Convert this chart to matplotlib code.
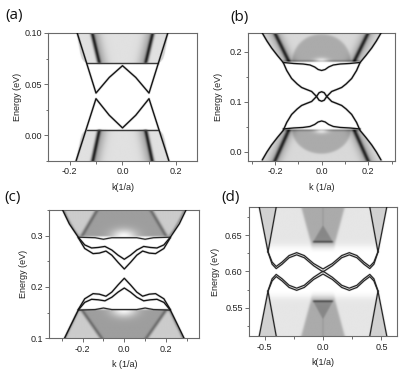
import numpy as np
import matplotlib
matplotlib.use('Agg')
import matplotlib.pyplot as plt
from matplotlib.ticker import MultipleLocator, FormatStrFormatter

plt.rcParams['font.family'] = ['Liberation Sans', 'DejaVu Sans']
plt.rcParams['axes.unicode_minus'] = False

# ---------------- panel (a) ----------------
a_xlim = (-0.28, 0.28)
a_ylim = (-0.025, 0.10)
a_up_k = [-0.171, -0.100, -0.050, 0.000, 0.050, 0.100, 0.171]
a_up_E = [0.100, 0.0412, 0.0565, 0.068, 0.0565, 0.0412, 0.100]
a_lo_k = [-0.175, -0.100, -0.050, 0.000, 0.050, 0.100, 0.175]
a_lo_E = [-0.025, 0.0357, 0.0195, 0.0071, 0.0195, 0.0357, -0.025]
a_cf_k = [-0.135, 0.135]            # flat bottom of upper continuum
a_cf_E = [0.0705, 0.0705]
a_vf_k = [-0.135, 0.135]            # flat top of lower continuum
a_vf_E = [0.0055, 0.0055]
a_cb_E = [0.0705, 0.072, 0.075, 0.080, 0.090, 0.100]
a_cb_k = [0.130, 0.143, 0.152, 0.158, 0.165, 0.171]
a_vb_E = [0.0055, 0.004, 0.001, -0.004, -0.014, -0.025]
a_vb_k = [0.130, 0.143, 0.152, 0.158, 0.166, 0.175]
a_cs_E = [0.0705, 0.100]
a_cs_k = [0.088, 0.115]
a_vs_E = [0.0055, -0.025]
a_vs_k = [0.088, 0.113]

# ---------------- panel (b) ----------------
b_xlim = (-0.315, 0.315)
b_ylim = (-0.0175, 0.238)
b_k = [-0.255, -0.235, -0.215, -0.190, -0.165, -0.150, -0.129, -0.105, -0.086, -0.065,
       -0.043, -0.022, -0.011, 0.000, 0.011, 0.022, 0.043, 0.065, 0.086, 0.105,
       0.129, 0.150, 0.165, 0.190, 0.215, 0.235, 0.255]
b_up_E = [0.238, 0.222, 0.208, 0.193, 0.179, 0.163, 0.147, 0.136, 0.129, 0.125,
          0.121, 0.111, 0.1035, 0.1015, 0.1035, 0.111, 0.121, 0.125, 0.129, 0.136,
          0.147, 0.163, 0.179, 0.193, 0.208, 0.222, 0.238]
b_lo_E = [-0.016, 0.000, 0.014, 0.029, 0.043, 0.059, 0.075, 0.086, 0.093, 0.097,
          0.101, 0.111, 0.1185, 0.1205, 0.1185, 0.111, 0.101, 0.097, 0.093, 0.086,
          0.075, 0.059, 0.043, 0.029, 0.014, 0.000, -0.016]
b_d_k = [-0.165, -0.120, -0.080, -0.050, -0.030, -0.015, 0.000, 0.015, 0.030, 0.050, 0.080, 0.120, 0.165]
b_cd_E = [0.179, 0.177, 0.176, 0.174, 0.170, 0.165, 0.163, 0.165, 0.170, 0.174, 0.176, 0.177, 0.179]
b_vd_E = [0.046, 0.048, 0.049, 0.051, 0.055, 0.060, 0.062, 0.060, 0.055, 0.051, 0.049, 0.048, 0.046]
b_cb_E = [0.181, 0.193, 0.208, 0.222, 0.238]
b_cb_k = [0.163, 0.190, 0.215, 0.235, 0.255]
b_vb_E = [0.045, 0.029, 0.014, 0.000, -0.0175]
b_vb_k = [0.163, 0.190, 0.215, 0.235, 0.257]
b_cs_E = [0.181, 0.238]
b_cs_k = [0.140, 0.200]
b_vs_E = [0.045, -0.0175]
b_vs_k = [0.140, 0.200]

# ---------------- panel (c) ----------------
c_xlim = (-0.36, 0.36)
c_ylim = (0.10, 0.35)
c_o_k = [-0.296, -0.264, -0.221, -0.190, -0.157, -0.125, -0.093, -0.060, -0.030, 0.000,
         0.030, 0.060, 0.093, 0.125, 0.157, 0.190, 0.221, 0.264, 0.296]
c_u1_E = [0.350, 0.323, 0.297, 0.282, 0.276, 0.277, 0.279, 0.272, 0.262, 0.254,
          0.262, 0.272, 0.279, 0.277, 0.276, 0.282, 0.297, 0.323, 0.350]
c_l2_k = [-0.287, -0.256, -0.221, -0.190, -0.157, -0.125, -0.093, -0.060, -0.030, 0.000,
          0.030, 0.060, 0.093, 0.125, 0.157, 0.190, 0.221, 0.256, 0.287]
c_l2_E = [0.100, 0.126, 0.155, 0.170, 0.176, 0.175, 0.173, 0.180, 0.190, 0.198,
          0.190, 0.180, 0.173, 0.175, 0.176, 0.170, 0.155, 0.126, 0.100]
c_i_k = [-0.221, -0.190, -0.150, -0.120, -0.088, -0.060, -0.030, 0.000,
         0.030, 0.060, 0.088, 0.120, 0.150, 0.190, 0.221]
c_u2_E = [0.296, 0.275, 0.265, 0.266, 0.270, 0.262, 0.248, 0.235,
          0.248, 0.262, 0.270, 0.266, 0.265, 0.275, 0.296]
c_l1_E = [0.156, 0.177, 0.187, 0.186, 0.182, 0.190, 0.204, 0.217,
          0.204, 0.190, 0.182, 0.186, 0.187, 0.177, 0.156]
c_f_k = [-0.221, -0.140, -0.100, -0.060, 0.060, 0.100, 0.140, 0.221]
c_cf_E = [0.297, 0.296, 0.293, 0.296, 0.296, 0.293, 0.296, 0.297]
c_vf_E = [0.155, 0.156, 0.159, 0.156, 0.156, 0.159, 0.156, 0.155]
c_cb_E = [0.297, 0.310, 0.323, 0.336, 0.350]
c_cb_k = [0.221, 0.245, 0.264, 0.281, 0.296]
c_vb_E = [0.155, 0.140, 0.126, 0.113, 0.100]
c_vb_k = [0.221, 0.240, 0.256, 0.272, 0.287]
c_cs_E = [0.297, 0.350]
c_cs_k = [0.205, 0.128]
c_vs_E = [0.155, 0.100]
c_vs_k = [0.205, 0.110]

# ---------------- panel (d) ----------------
d_xlim = (-0.63, 0.63)
d_ylim = (0.511, 0.689)
d_o_k = [-0.545, -0.470, -0.435, -0.400, -0.350, -0.290, -0.225, -0.160, -0.080, 0.000,
         0.080, 0.160, 0.225, 0.290, 0.350, 0.400, 0.435, 0.470, 0.545]
d_a1_E = [0.689, 0.627, 0.613, 0.607, 0.613, 0.622, 0.626, 0.622, 0.611, 0.6035,
          0.611, 0.622, 0.626, 0.622, 0.613, 0.607, 0.613, 0.627, 0.689]
d_b2_E = [0.511, 0.573, 0.587, 0.593, 0.587, 0.578, 0.574, 0.578, 0.589, 0.5965,
          0.589, 0.578, 0.574, 0.578, 0.587, 0.593, 0.587, 0.573, 0.511]
d_i_k = [-0.470, -0.435, -0.400, -0.350, -0.290, -0.225, -0.160, -0.080, 0.000,
         0.080, 0.160, 0.225, 0.290, 0.350, 0.400, 0.435, 0.470]
d_a2_E = [0.627, 0.610, 0.604, 0.610, 0.619, 0.623, 0.619, 0.608, 0.5995,
          0.608, 0.619, 0.623, 0.619, 0.610, 0.604, 0.610, 0.627]
d_b1_E = [0.573, 0.590, 0.596, 0.590, 0.581, 0.577, 0.581, 0.592, 0.6005,
          0.592, 0.581, 0.577, 0.581, 0.590, 0.596, 0.590, 0.573]
d_st_k = [0.400, 0.470]
d_stc_E = [0.689, 0.627]
d_stv_E = [0.511, 0.573]
d_cl_E = [0.627, 0.689]; d_cl_k = [0.470, 0.545]
d_cr_E = [0.627, 0.689]; d_cr_k = [0.470, 0.400]
d_ct_E = [0.630, 0.641, 0.689]; d_ct_k = [0.095, 0.105, 0.185]
d_ctri_E = [0.641, 0.664]; d_ctri_k = [0.085, 0.0]
d_vl_E = [0.573, 0.511]; d_vl_k = [0.470, 0.545]
d_vr_E = [0.573, 0.511]; d_vr_k = [0.470, 0.400]
d_vt_E = [0.570, 0.559, 0.511]; d_vt_k = [0.095, 0.105, 0.185]
d_vtri_E = [0.559, 0.534]; d_vtri_k = [0.085, 0.0]


def soft(x, w):
    return 0.5 * (1.0 + np.tanh(x / w))


def edge(E, Es, ks):
    Es = np.asarray(Es, float)
    ks = np.asarray(ks, float)
    o = np.argsort(Es)
    return np.interp(E, Es[o], ks[o])


def grid(xlim, ylim, ax, n=420):
    k = np.linspace(xlim[0], xlim[1], n)
    e = np.linspace(ylim[0], ylim[1], n)
    K, E = np.meshgrid(k, e)
    bb = ax.get_position()
    dk = (xlim[1] - xlim[0]) / (bb.width * 416)
    de = (ylim[1] - ylim[0]) / (bb.height * 379)
    return K, E, dk, de


def lobe(K, E, dk, de, eE, ek, up):
    side = (E - eE[0]) if up else (eE[0] - E)
    w = edge(E, eE, ek)
    return soft(side, 0.7 * de) * soft(w - np.abs(K), 0.7 * dk), w


def show(ax, D, xlim, ylim):
    img = 1.0 - np.clip(D, 0, 0.95)
    ax.imshow(img, cmap='gray', vmin=0, vmax=1, origin='lower',
              extent=(xlim[0], xlim[1], ylim[0], ylim[1]),
              aspect='auto', interpolation='bilinear', zorder=1)


def band(ax, k, E, lw=1.0, c='#151515'):
    ax.plot(k, E, color=c, lw=lw * 2.0, alpha=0.14, solid_joinstyle='round', zorder=3)
    ax.plot(k, E, color=c, lw=lw, solid_joinstyle='round', solid_capstyle='round', zorder=4)


def style(ax, xlim, ylim, xmaj, xmin, ymaj, ymin, yfmt, xlab):
    ax.set_xlim(xlim)
    ax.set_ylim(ylim)
    ax.xaxis.set_major_locator(MultipleLocator(xmaj))
    ax.xaxis.set_minor_locator(MultipleLocator(xmin))
    ax.yaxis.set_major_locator(MultipleLocator(ymaj))
    ax.yaxis.set_minor_locator(MultipleLocator(ymin))
    ax.xaxis.set_major_formatter(FormatStrFormatter('%.1f'))
    ax.yaxis.set_major_formatter(FormatStrFormatter(yfmt))
    for s in ax.spines.values():
        s.set_color('#6a6a6a')
        s.set_linewidth(0.8)
    ax.tick_params(which='both', direction='out', colors='#555555', labelcolor='#222222',
                   top=False, right=False, labelsize=6.5, pad=1.8, width=0.6)
    ax.tick_params(which='major', length=3)
    ax.tick_params(which='minor', length=1.8)
    ax.set_xlabel(xlab, fontsize=6.5, color='#222222')
    ax.set_ylabel('Energy (eV)', fontsize=6.5, color='#222222')


fig = plt.figure(figsize=(4.16, 3.79), dpi=100)
axa = fig.add_axes([48.3 / 416, 1 - 160.7 / 379, 148.4 / 416, 127.7 / 379])
axb = fig.add_axes([248.3 / 416, 1 - 160.7 / 379, 146.7 / 416, 127.7 / 379])
axc = fig.add_axes([49.3 / 416, 1 - 338.3 / 379, 150.0 / 416, 128.3 / 379])
axd = fig.add_axes([249.3 / 416, 1 - 336.0 / 379, 147.4 / 416, 129.0 / 379])

# ---- (a) ----
K, E, dk, de = grid(a_xlim, a_ylim, axa)
aK = np.abs(K)
D = np.zeros_like(K)
for eE, ek, sE, sk, up in [(a_cb_E, a_cb_k, a_cs_E, a_cs_k, True),
                           (a_vb_E, a_vb_k, a_vs_E, a_vs_k, False)]:
    m, w = lobe(K, E, dk, de, eE, ek, up)
    s = edge(E, sE, sk)
    d = (0.12 + 0.6 * np.exp(-((aK - s) / (2.0 * dk)) ** 2)
         + 0.25 * np.exp(-((aK - s) / (8 * dk)) ** 2) * soft(s - aK, dk)
         + 0.15 * np.exp(-((aK - w) / (1.2 * dk)) ** 2))
    D += m * d
show(axa, D, a_xlim, a_ylim)
band(axa, a_cf_k, a_cf_E, lw=0.9, c='#3a3a3a')
band(axa, a_vf_k, a_vf_E, lw=0.9, c='#3a3a3a')
band(axa, a_up_k, a_up_E)
band(axa, a_lo_k, a_lo_E)
style(axa, a_xlim, a_ylim, 0.2, 0.1, 0.05, 0.025, '%.2f', 'k(1/a)')

# ---- (b) ----
K, E, dk, de = grid(b_xlim, b_ylim, axb)
aK = np.abs(K)
D = np.zeros_like(K)
for eE, ek, sE, sk, up, er in [(b_cb_E, b_cb_k, b_cs_E, b_cs_k, True, 0.055),
                               (b_vb_E, b_vb_k, b_vs_E, b_vs_k, False, 0.048)]:
    m, w = lobe(K, E, dk, de, eE, ek, up)
    s = edge(E, sE, sk)
    r = (K / 0.125) ** 2 + ((E - eE[0]) / er) ** 2
    blob = np.exp(-((K / 0.03) ** 2 + ((E - eE[0]) / 0.007) ** 2))
    d = (0.15 + 0.18 * soft(1 - r, 0.1)
         + 0.5 * np.exp(-((aK - s) / (2.2 * dk)) ** 2)
         + 0.2 * np.exp(-((aK - s) / (7 * dk)) ** 2)
         + 0.3 * np.exp(-((E - eE[0]) / (1.4 * de)) ** 2)
         - 0.33 * blob)
    D += m * d
show(axb, D, b_xlim, b_ylim)
band(axb, b_d_k, b_cd_E, lw=0.95)
band(axb, b_d_k, b_vd_E, lw=0.95)
band(axb, b_k, b_up_E)
band(axb, b_k, b_lo_E)
style(axb, b_xlim, b_ylim, 0.2, 0.1, 0.1, 0.05, '%.1f', 'k (1/a)')

# ---- (c) ----
K, E, dk, de = grid(c_xlim, c_ylim, axc)
aK = np.abs(K)
D = np.zeros_like(K)
for eE, ek, sE, sk, up in [(c_cb_E, c_cb_k, c_cs_E, c_cs_k, True),
                           (c_vb_E, c_vb_k, c_vs_E, c_vs_k, False)]:
    m, w = lobe(K, E, dk, de, eE, ek, up)
    s = edge(E, sE, sk)
    blob = np.exp(-((K / 0.06) ** 2 + ((E - eE[0]) / 0.014) ** 2))
    d = (0.2 + 0.18 * soft(s - aK, 1.5 * dk)
         + 0.25 * np.exp(-((aK - s) / (2.2 * dk)) ** 2)
         + 0.3 * np.exp(-((aK - w) / (2.0 * dk)) ** 2)
         - 0.36 * blob)
    D += m * d
show(axc, D, c_xlim, c_ylim)
band(axc, c_f_k, c_cf_E, lw=0.9, c='#2a2a2a')
band(axc, c_f_k, c_vf_E, lw=0.9, c='#2a2a2a')
band(axc, c_o_k, c_u1_E, lw=0.95)
band(axc, c_i_k, c_u2_E, lw=0.95)
band(axc, c_i_k, c_l1_E, lw=0.95)
band(axc, c_l2_k, c_l2_E, lw=0.95)
style(axc, c_xlim, c_ylim, 0.2, 0.1, 0.1, 0.05, '%.1f', 'k (1/a)')

# ---- (d) ----
K, E, dk, de = grid(d_xlim, d_ylim, axd)
aK = np.abs(K)
D = np.zeros_like(K)
for lE, lk, rE, rk, tE, tk, sE, sk, up in [
        (d_cl_E, d_cl_k, d_cr_E, d_cr_k, d_ct_E, d_ct_k, d_ctri_E, d_ctri_k, True),
        (d_vl_E, d_vl_k, d_vr_E, d_vr_k, d_vt_E, d_vt_k, d_vtri_E, d_vtri_k, False)]:
    side = (E - lE[0]) if up else (lE[0] - E)
    m = soft(side, 0.8 * de)
    kl = edge(E, lE, lk)
    kr = edge(E, rE, rk)
    kt = edge(E, tE, tk)
    ktri = edge(E, sE, sk)
    fade = soft(side - 6 * de, 4 * de)
    inside_tri = soft(ktri - aK, dk) * soft((E - sE[0]) if up else (sE[0] - E), de)
    d = (0.18 * soft(kl - aK, dk) * soft(aK - kr, dk)
         + 0.1 * soft(kr - aK, dk) * soft(aK - kt, 2 * dk) * fade
         + 0.33 * soft(kt - aK, 1.5 * dk) * fade
         + 0.14 * inside_tri
         + 0.3 * np.exp(-((E - sE[0]) / (1.2 * de)) ** 2) * soft(sk[0] - aK, dk))
    D += m * d
show(axd, D, d_xlim, d_ylim)
for sgn in (-1, 1):
    band(axd, [sgn * x for x in d_st_k], d_stc_E, lw=0.85, c='#252525')
    band(axd, [sgn * x for x in d_st_k], d_stv_E, lw=0.85, c='#252525')
band(axd, d_o_k, d_a1_E, lw=0.85, c='#252525')
band(axd, d_i_k, d_a2_E, lw=0.85, c='#252525')
band(axd, d_i_k, d_b1_E, lw=0.85, c='#252525')
band(axd, d_o_k, d_b2_E, lw=0.85, c='#252525')
style(axd, d_xlim, d_ylim, 0.5, 0.25, 0.05, 0.025, '%.2f', 'k(1/a)')

# label placement
axa.yaxis.set_label_coords(-0.177, 0.5)
axb.yaxis.set_label_coords(-0.172, 0.5)
axc.yaxis.set_label_coords(-0.14, 0.5)
axd.yaxis.set_label_coords(-0.199, 0.5)
axa.xaxis.set_label_coords(0.5, -0.176)
axb.xaxis.set_label_coords(0.5, -0.176)
axc.xaxis.set_label_coords(0.5, -0.169)
axd.xaxis.set_label_coords(0.5, -0.173)

for x, y, t in [(14, 16, '(a)'), (240, 17, '(b)'), (13, 197, '(c)'), (231, 197, '(d)')]:
    fig.text(x / 416, 1 - y / 379, t, ha='center', va='center', fontsize=11,
             family=['Open Sans', 'DejaVu Sans'], color='#111111')

fig.savefig('out.png', dpi=100)
